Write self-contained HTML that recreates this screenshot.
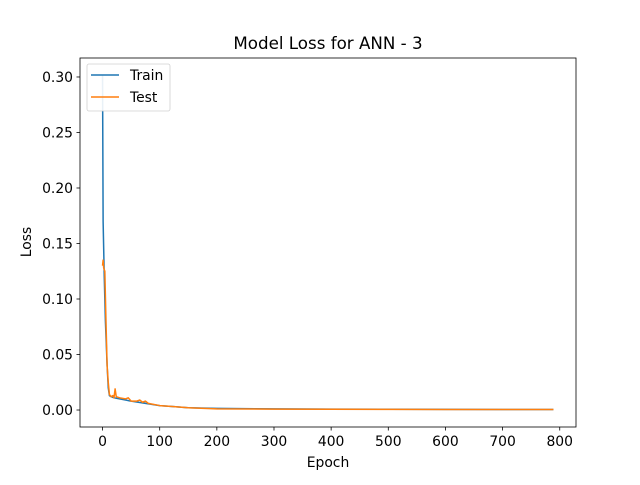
<!DOCTYPE html>
<html><head><meta charset="utf-8">
<style>body{margin:0;background:#fff}svg{font-family:"DejaVu Sans","Liberation Sans",sans-serif}</style>
</head><body>
<svg id="c" width="640" height="480" xmlns="http://www.w3.org/2000/svg">
<rect width="640" height="480" fill="#fff"/>
</svg>
<script>
const trainEpochs=[0,1,3,5,8,10,12,15,20,30,50,75,100,125,150,200,300,400,500,600,700,789];
const trainLoss=[0.302,0.17,0.12,0.08,0.04,0.02,0.013,0.012,0.011,0.010,0.008,0.006,0.004,0.003,0.002,0.0015,0.001,0.0008,0.0007,0.0006,0.0005,0.0005];
const testEpochs=[0,1,2,4,6,8,10,12,15,18,20,22,24,30,40,45,50,60,65,70,75,80,100,125,150,200,300,400,500,600,700,789];
const testLoss=[0.13,0.135,0.128,0.125,0.08,0.04,0.025,0.014,0.012,0.013,0.011,0.019,0.012,0.011,0.010,0.011,0.008,0.008,0.009,0.007,0.008,0.006,0.004,0.003,0.002,0.001,0.0008,0.0007,0.0006,0.0005,0.0005,0.0005];
const xTicks=[0,100,200,300,400,500,600,700,800];
const yTicks=[0,0.05,0.10,0.15,0.20,0.25,0.30];
const yTickLabels=["0.00","0.05","0.10","0.15","0.20","0.25","0.30"];
const L=80,R=576,T=58,B=427;
const xMin=-39.45,xMax=828.45,yMin=-0.0153,yMax=0.3171;
const X=v=>L+(v-xMin)/(xMax-xMin)*(R-L);
const Y=v=>B-(v-yMin)/(yMax-yMin)*(B-T);
const svg=document.getElementById('c');const NS='http://www.w3.org/2000/svg';
function mk(t,a,p){const e=document.createElementNS(NS,t);for(const k in a)e.setAttribute(k,a[k]);(p||svg).appendChild(e);return e;}
function txt(s,a){const e=mk('text',a);e.textContent=s;return e;}
const FS=13.9;
xTicks.forEach((v,i)=>{const x=X(v);
const t=mk('line',{x1:x,x2:x,y1:B,y2:B+3.5,stroke:'#000','stroke-width':0.8});


const l=txt(String(v),{x:x,y:B+19,'font-size':FS,'text-anchor':'middle'});

});
yTicks.forEach((v,i)=>{const y=Y(v);
const t=mk('line',{x1:L-3.5,x2:L,y1:y,y2:y,stroke:'#000','stroke-width':0.8});


const l=txt(yTickLabels[i],{x:L-7,y:y+5,'font-size':FS,'text-anchor':'end'});

});
function line(xs,ys,c,name){const p=mk('polyline',{points:xs.map((x,i)=>X(x)+','+Y(ys[i])).join(' '),fill:'none',stroke:c,'stroke-width':1.5,'stroke-linejoin':'round'});

}
line(trainEpochs,trainLoss,'#1f77b4','train-line');
line(testEpochs,testLoss,'#ff7f0e','test-line');
const fr=mk('rect',{x:L,y:T,width:R-L,height:B-T,fill:'none',stroke:'#000','stroke-width':0.8});


const ti=txt('Model Loss for ANN - 3',{x:328,y:49,'font-size':16.7,'text-anchor':'middle'});


const xl=txt('Epoch',{x:328,y:467,'font-size':FS,'text-anchor':'middle'});


const yl=txt('Loss',{x:31,y:242,'font-size':FS,'text-anchor':'middle',transform:'rotate(-90 31 242)'});


const g=mk('g',{});


mk('rect',{x:87,y:64,width:83,height:47,rx:2,fill:'#fff',stroke:'#ccc','stroke-width':0.8,opacity:0.9},g);
[['Train','#1f77b4',75],['Test','#ff7f0e',97]].forEach(([n,c,y])=>{
const e=mk('line',{x1:91,x2:119,y1:y,y2:y,stroke:c,'stroke-width':1.5},g);


const t=mk('text',{x:130,y:y+5,'font-size':FS},g);t.textContent=n;

});
</script>
</body></html>
